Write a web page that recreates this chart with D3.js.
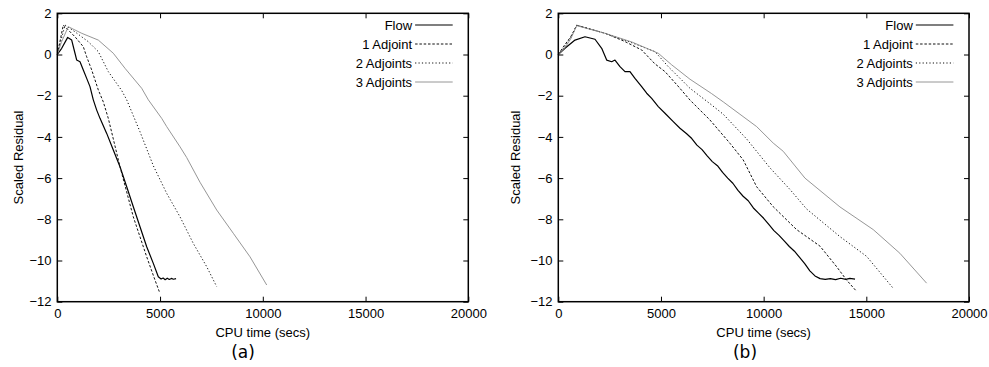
<!DOCTYPE html>
<html><head><meta charset="utf-8">
<script src="https://cdn.jsdelivr.net/npm/d3@7"></script>
<style>body{margin:0;background:#fff}svg{display:block}</style>
</head><body>
<script>
// ---------- data ----------
const seriesNames = ["Flow", "1 Adjoint", "2 Adjoints", "3 Adjoints"];
const xTicks = [0, 5000, 10000, 15000, 20000];
const yTicks = [-12, -10, -8, -6, -4, -2, 0, 2];
const panelLabels = ["(a)", "(b)"];

// panel (a)
const flowA = [[0,0],[214,0.3],[506,0.83],[700,0.7],[861,0.06],[944,-0.27],[1105,-0.35],[1265,-0.75],[1430,-1.16],[1591,-1.56],[1752,-2.2],[1917,-2.7],[2078,-3.1],[2404,-3.83],[2725,-4.64],[3051,-5.45],[3377,-6.42],[3698,-7.39],[4024,-8.36],[4350,-9.33],[4672,-10.14],[4915,-10.79],[5050,-10.9],[5150,-10.85],[5250,-10.93],[5350,-10.86],[5450,-10.92],[5550,-10.87],[5650,-10.91],[5780,-10.88]];
const adj1A = [[0,0],[292,1.43],[861,0.86],[1265,0.38],[1430,-0.11],[1674,-0.75],[1995,-1.72],[2238,-2.3],[2482,-3.1],[2725,-4.1],[3051,-5.45],[3698,-7.88],[4350,-9.82],[4754,-10.95],[4963,-11.51]];
const adj2A = [[0,0],[375,1.43],[861,1.1],[1509,0.62],[1995,0.14],[2482,-0.83],[3134,-1.75],[3377,-2.2],[4024,-3.75],[4672,-5.4],[5323,-6.74],[5971,-7.88],[6618,-9.17],[7270,-10.3],[7757,-11.27]];
const adj3A = [[0,0],[200,0.6],[535,1.35],[1187,1.03],[1995,0.7],[2725,0.06],[3295,-0.67],[4107,-1.64],[4430,-2.2],[5080,-3.1],[5323,-3.5],[5971,-4.48],[6295,-5.0],[6944,-6.2],[7757,-7.55],[8565,-8.68],[9377,-9.82],[10190,-11.19]];

// panel (b)
const flowB = [[0,0],[326,0.3],[813,0.7],[1300,0.86],[1787,0.74],[2113,0.3],[2356,-0.27],[2600,-0.35],[2760,-0.27],[3004,-0.59],[3247,-0.83],[3490,-0.83],[3734,-1.16],[4060,-1.56],[4304,-1.88],[4547,-2.13],[4869,-2.53],[5195,-2.85],[5599,-3.26],[5925,-3.58],[6250,-3.85],[6500,-4.08],[6750,-4.4],[7000,-4.62],[7250,-4.92],[7500,-5.2],[7750,-5.4],[8000,-5.72],[8250,-6.0],[8500,-6.25],[8750,-6.6],[9000,-6.88],[9250,-7.1],[9500,-7.45],[9750,-7.7],[10000,-7.95],[10250,-8.25],[10500,-8.55],[10750,-8.78],[11000,-9.05],[11250,-9.32],[11500,-9.55],[11750,-9.85],[12000,-10.15],[12250,-10.5],[12500,-10.75],[12750,-10.88],[13000,-10.92],[13250,-10.88],[13500,-10.93],[13750,-10.86],[14000,-10.92],[14200,-10.87],[14450,-10.9]];
const adj1B = [[0,0],[300,0.45],[600,0.85],[900,1.42],[2274,1.03],[3200,0.65],[4060,0.22],[4700,-0.45],[5195,-0.83],[5800,-1.5],[6412,-2.21],[7386,-3.18],[8359,-4.31],[9007,-5.12],[9659,-6.42],[10467,-7.39],[11604,-8.5],[12741,-9.3],[13553,-10.3],[14040,-10.95],[14527,-11.5]];
const adj2B = [[0,0],[300,0.35],[600,0.8],[900,1.42],[2274,1.03],[3500,0.6],[4708,0.14],[5355,-0.59],[6412,-1.64],[7468,-2.45],[8033,-2.9],[9172,-4.1],[10306,-5.5],[11280,-6.55],[12093,-7.5],[13716,-8.84],[15015,-9.8],[16310,-11.35]];
const adj3B = [[0,0],[300,0.3],[600,0.75],[900,1.4],[2274,1.03],[3600,0.6],[4869,0.06],[5520,-0.5],[6412,-1.2],[7468,-1.9],[8033,-2.3],[8846,-2.9],[9659,-3.5],[10467,-4.3],[10954,-4.7],[12011,-6.0],[13716,-7.4],[15336,-8.5],[16635,-9.65],[17935,-11.1]];

const panelsData = [[flowA, adj1A, adj2A, adj3A], [flowB, adj1B, adj2B, adj3B]];

// ---------- styles ----------
const styles = [
  {stroke:"#000", width:1.2, dash:null},
  {stroke:"#111", width:1, dash:"2.5,1.8"},
  {stroke:"#111", width:1, dash:"1.2,2.2"},
  {stroke:"#8a8a8a", width:0.9, dash:null}
];
const FONT = "'Liberation Sans', Arial, Helvetica, sans-serif";

const svg = d3.select("body").append("svg").attr("width",989).attr("height",367);

const panels = [
  {left:57.3, right:468.3, ylabX:23, label:243},
  {left:558.3, right:969, ylabX:520, label:745}
];
const plotTop = 13.3, plotBottom = 301.7;

panels.forEach((p, pi) => {
  const x = d3.scaleLinear().domain([0,20000]).range([p.left,p.right]);
  const y = d3.scaleLinear().domain([-12,2]).range([plotBottom,plotTop]);
  const g = svg.append("g");

  // lines
  const line = d3.line().x(d=>x(d[0])).y(d=>y(d[1]));
  panelsData[pi].forEach((data, si) => {
    const s = styles[si];
    g.append("path").datum(data).attr("d", line)
      .attr("fill","none").attr("stroke",s.stroke).attr("stroke-width",s.width)
      .attr("stroke-dasharray", s.dash).attr("stroke-linejoin","round");
  });

  // axes (inward ticks, mirrored)
  const tl = 5;
  const axB = d3.axisBottom(x).tickValues(xTicks).tickSize(-tl).tickPadding(7.5).tickFormat(d3.format("d"));
  const axT = d3.axisTop(x).tickValues(xTicks).tickSize(-tl).tickFormat("");
  const axL = d3.axisLeft(y).tickValues(yTicks).tickSize(-tl).tickPadding(5.8).tickFormat(d3.format("d"));
  const axR = d3.axisRight(y).tickValues(yTicks).tickSize(-tl).tickFormat("");
  const gb = g.append("g").attr("transform",`translate(0,${plotBottom})`).call(axB);
  const gt = g.append("g").attr("transform",`translate(0,${plotTop})`).call(axT);
  const gl = g.append("g").attr("transform",`translate(${p.left},0)`).call(axL);
  const gr = g.append("g").attr("transform",`translate(${p.right},0)`).call(axR);
  [gb,gt,gl,gr].forEach(a => {
    a.select(".domain").remove();
    a.selectAll(".tick line").attr("stroke","#000").attr("stroke-width",1);
    a.selectAll("text").attr("font-family",FONT).attr("font-size",13).attr("fill","#000");
  });
  g.append("rect").attr("x",p.left).attr("y",plotTop).attr("width",p.right-p.left).attr("height",plotBottom-plotTop)
    .attr("fill","none").attr("stroke","#000").attr("stroke-width",1.5);

  // axis titles
  g.append("text").attr("x",(p.left+p.right)/2).attr("y",337).attr("text-anchor","middle")
    .attr("font-family",FONT).attr("font-size",13).text("CPU time (secs)");
  g.append("text").attr("transform",`translate(${p.ylabX},${(plotTop+plotBottom)/2}) rotate(-90)`)
    .attr("text-anchor","middle").attr("font-family",FONT).attr("font-size",13).text("Scaled Residual");
  g.append("text").attr("x",p.label).attr("y",358).attr("text-anchor","middle")
    .attr("font-family","'DejaVu Sans', sans-serif").attr("font-size",17).text(panelLabels[pi]);

  // legend
  const lx = p.right - 15.6;
  seriesNames.forEach((name, si) => {
    const yy = 25 + si*19;
    const s = styles[si];
    g.append("text").attr("x", lx - 40.6).attr("y", yy + 4.5).attr("text-anchor","end")
      .attr("font-family",FONT).attr("font-size",13).text(name);
    g.append("line").attr("x1", lx - 37.6).attr("x2", lx).attr("y1", yy).attr("y2", yy)
      .attr("stroke", s.stroke).attr("stroke-width", s.width).attr("stroke-dasharray", s.dash);
  });
});
</script>
</body></html>
